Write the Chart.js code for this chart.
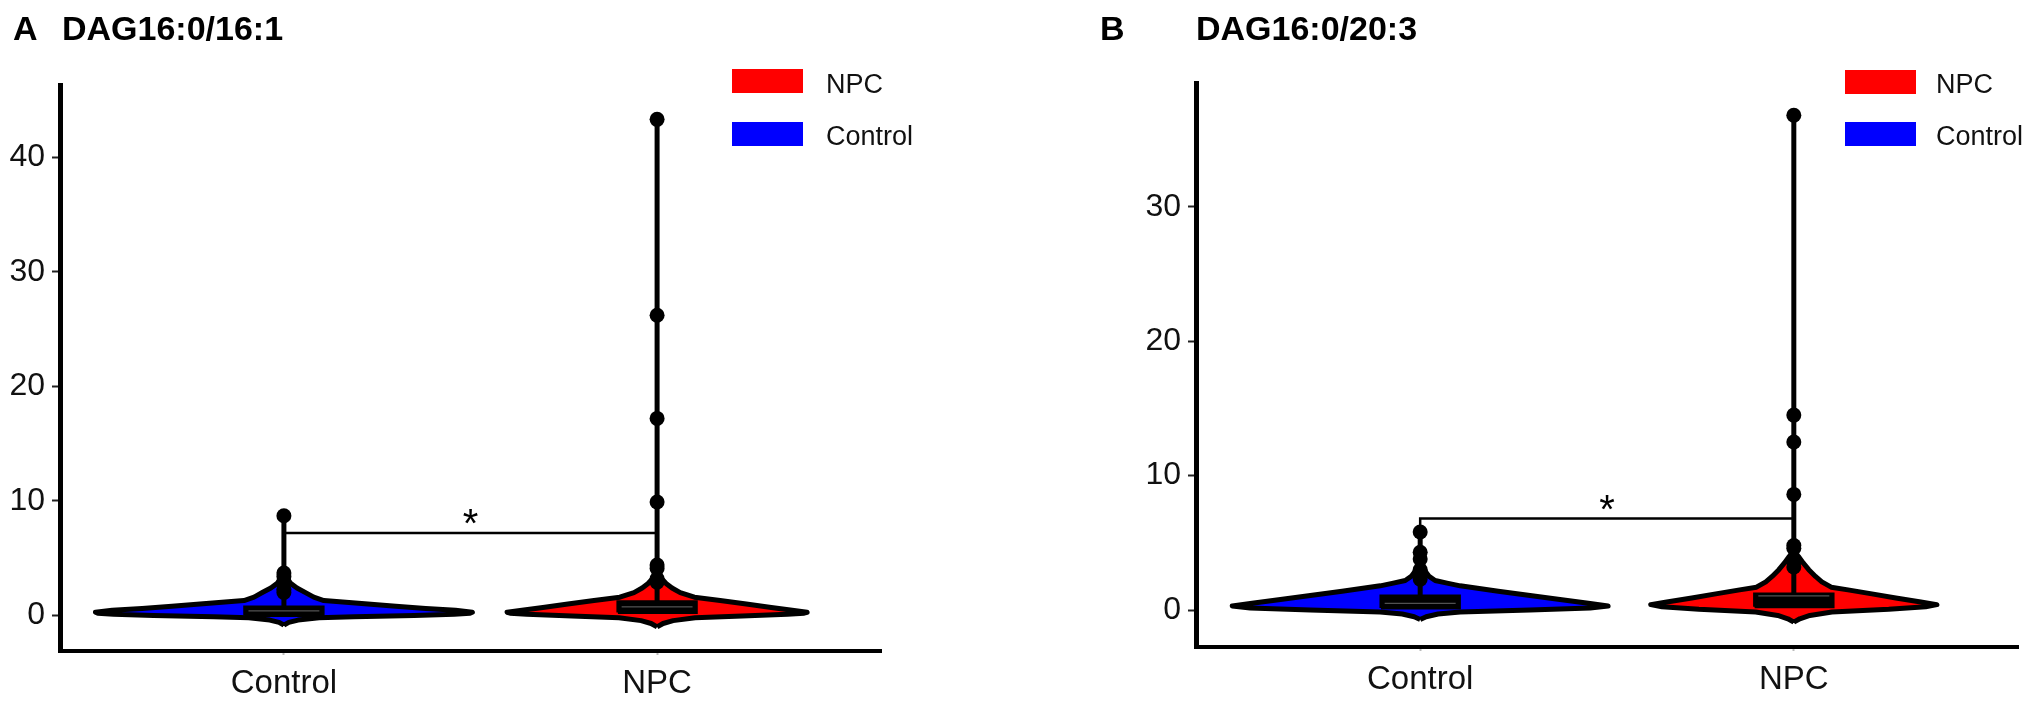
<!DOCTYPE html>
<html>
<head>
<meta charset="utf-8">
<script src="https://cdn.jsdelivr.net/npm/chart.js@4.4.1/dist/chart.umd.min.js"></script>
<style>
  body { margin: 0; background: #fff; font-family: "Liberation Sans", Arial, sans-serif; }
  #wrap { position: relative; width: 2033px; height: 704px; overflow: hidden; background: #fff; }
  canvas { position: absolute; top: 0; }
  .t { position: absolute; top: 11px; font-weight: bold; font-size: 34px; line-height: 34px; color: #000; white-space: nowrap; }
  .sw { position: absolute; width: 71px; height: 24px; }
  .lg { position: absolute; font-size: 27px; line-height: 27px; color: #111; white-space: nowrap; }
</style>
</head>
<body>
<div id="wrap">
  <canvas id="chartA" width="1016" height="704" style="left:0"></canvas>
  <canvas id="chartB" width="1017" height="704" style="left:1016px"></canvas>

  <div class="t" style="left:13px">A</div>
  <div class="t" style="left:62px" id="titleA"></div>
  <div class="t" style="left:1100px">B</div>
  <div class="t" style="left:1196px" id="titleB"></div>

  <div class="sw" style="left:732px;top:69px;background:#ff0000"></div>
  <div class="sw" style="left:732px;top:122px;background:#0000ff"></div>
  <div class="lg" style="left:826px;top:71px" id="lgA0"></div>
  <div class="lg" style="left:826px;top:123px" id="lgA1"></div>

  <div class="sw" style="left:1845px;top:70px;background:#ff0000"></div>
  <div class="sw" style="left:1845px;top:122px;background:#0000ff"></div>
  <div class="lg" style="left:1936px;top:71px" id="lgB0"></div>
  <div class="lg" style="left:1936px;top:123px" id="lgB1"></div>
</div>
<script>
// 群とラベル
const categories = ['Control', 'NPC'];
const panelTitles = ['DAG16:0/16:1', 'DAG16:0/20:3'];
const legendLabels = ['NPC', 'Control'];
const groupColors = ['#0000ff', '#ff0000'];

// パネルA
const yTicksA = [0, 10, 20, 30, 40];
const violinYA_Control = [-0.85, -0.6, -0.4, -0.2, -0.1, 0.0, 0.1, 0.2, 0.28, 0.45, 0.6, 0.8, 1.0, 1.3, 1.6, 2.0, 2.4, 2.8, 3.3, 3.8];
const violinWA_Control = [0, 0.013, 0.038, 0.094, 0.188, 0.349, 0.456, 0.499, 0.505, 0.46, 0.38, 0.30, 0.225, 0.107, 0.08, 0.058, 0.035, 0.018, 0.006, 0];
const violinYA_NPC = [-1.0, -0.7, -0.45, -0.2, -0.05, 0.1, 0.2, 0.28, 0.45, 0.7, 1.0, 1.3, 1.6, 2.0, 2.4, 2.8, 3.3, 3.8];
const violinWA_NPC = [0, 0.016, 0.043, 0.102, 0.228, 0.349, 0.394, 0.402, 0.362, 0.306, 0.239, 0.169, 0.1, 0.062, 0.04, 0.024, 0.01, 0];
const q1A = [0.0, 0.25];
const medianA = [0.4, 0.75];
const q3A = [0.75, 1.2];
const outliersA_Control = [8.7, 3.7, 3.4, 3.0, 2.3, 2.0];
const outliersA_NPC = [43.3, 26.2, 17.2, 9.9, 4.4, 4.1, 3.2, 2.9];
const bracketA = 7.2;

// パネルB
const yTicksB = [0, 10, 20, 30];
const violinYB_Control = [-0.7, -0.5, -0.3, -0.15, 0.0, 0.15, 0.3, 0.5, 0.8, 1.1, 1.4, 1.8, 2.0, 2.2, 2.5, 2.8, 3.3, 3.8];
const violinWB_Control = [0, 0.016, 0.048, 0.107, 0.294, 0.455, 0.503, 0.45, 0.369, 0.289, 0.209, 0.107, 0.072, 0.04, 0.024, 0.016, 0.006, 0];
const violinYB_NPC = [-0.9, -0.65, -0.4, -0.15, 0.05, 0.25, 0.4, 0.6, 0.9, 1.2, 1.5, 1.7, 2.1, 2.5, 3.0, 3.5, 4.0, 4.4];
const violinWB_NPC = [0, 0.016, 0.043, 0.102, 0.254, 0.353, 0.383, 0.34, 0.273, 0.209, 0.145, 0.1, 0.075, 0.058, 0.04, 0.025, 0.012, 0];
const q1B = [0.15, 0.25];
const medianB = [0.5, 1.05];
const q3B = [1.05, 1.2];
const outliersB_Control = [5.8, 4.3, 3.8, 3.0, 2.6, 2.3];
const outliersB_NPC = [36.8, 14.5, 12.5, 8.6, 4.8, 4.6, 3.6, 3.2];
const bracketB = 6.8;

const BOX_HALF = 0.105;
const TIP = 1.0;

document.getElementById('titleA').textContent = panelTitles[0];
document.getElementById('titleB').textContent = panelTitles[1];
document.getElementById('lgA0').textContent = legendLabels[0];
document.getElementById('lgA1').textContent = legendLabels[1];
document.getElementById('lgB0').textContent = legendLabels[0];
document.getElementById('lgB1').textContent = legendLabels[1];

function violinPoly(cx, ys, ws) {
  const right = ys.map((y, i) => ({x: cx + ws[i], y: y}));
  const left = ys.map((y, i) => ({x: cx - ws[i], y: y})).reverse();
  return right.concat(left);
}

function boxPoly(cx, q1, q3) {
  return [
    {x: cx - BOX_HALF, y: q1}, {x: cx + BOX_HALF, y: q1},
    {x: cx + BOX_HALF, y: q3}, {x: cx - BOX_HALF, y: q3},
    {x: cx - BOX_HALF, y: q1}
  ];
}

// アスタリスクを描く
const starPlugin = {
  id: 'star',
  afterDatasetsDraw(chart, args, opts) {
    const ctx = chart.ctx;
    const x = chart.scales.x.getPixelForValue(1.5);
    const y = chart.scales.y.getPixelForValue(opts.value);
    ctx.save();
    ctx.fillStyle = '#000';
    ctx.font = '40px "Liberation Sans", Arial, sans-serif';
    ctx.textAlign = 'center';
    ctx.textBaseline = 'alphabetic';
    ctx.fillText('*', x, y + 4);
    ctx.restore();
  }
};

function makeChart(id, p) {
  const datasets = [];
  const violins = [[p.vyC, p.vwC], [p.vyN, p.vwN]];
  const outs = [p.outC, p.outN];
  categories.forEach((c, i) => {
    const cx = i + 1;
    datasets.push({
      type: 'line', order: 5,
      data: violinPoly(cx, violins[i][0], violins[i][1]),
      borderColor: '#000', borderWidth: 5, backgroundColor: groupColors[i],
      fill: 'shape', pointRadius: 0, borderJoinStyle: 'round', tension: 0
    });
    datasets.push({
      type: 'line', order: 4,
      data: boxPoly(cx, p.q1[i], p.q3[i]),
      borderColor: '#000', borderWidth: 3, backgroundColor: '#000',
      fill: 'shape', pointRadius: 0
    });
    datasets.push({
      type: 'line', order: 3,
      data: [{x: cx - BOX_HALF + 0.01, y: p.med[i]}, {x: cx + BOX_HALF - 0.01, y: p.med[i]}],
      borderColor: '#666', borderWidth: 1, pointRadius: 0, fill: false
    });
    datasets.push({
      type: 'line', order: 1,
      data: [{x: cx, y: p.q3[i]}, {x: cx, y: Math.max(...outs[i])}],
      borderColor: '#000', borderWidth: 5, pointRadius: 0, fill: false
    });
    datasets.push({
      type: 'scatter', order: 0,
      data: outs[i].map(v => ({x: cx, y: v})),
      backgroundColor: '#000', borderWidth: 0, pointRadius: 7.5, pointStyle: 'circle'
    });
  });
  datasets.push({
    type: 'line', order: 2,
    data: [{x: 1, y: p.bracket - TIP}, {x: 1, y: p.bracket}, {x: 2, y: p.bracket}, {x: 2, y: p.bracket - TIP}],
    borderColor: '#000', borderWidth: 2.5, pointRadius: 0, fill: false
  });

  return new Chart(document.getElementById(id), {
    type: 'scatter',
    data: {datasets: datasets},
    plugins: [starPlugin],
    options: {
      responsive: false,
      animation: false,
      devicePixelRatio: 1,
      layout: {padding: p.pad},
      plugins: {legend: {display: false}, tooltip: {enabled: false}, star: {value: p.bracket}},
      scales: {
        x: {
          type: 'linear', min: 0.4, max: 2.6,
          afterBuildTicks: s => { s.ticks = categories.map((c, i) => ({value: i + 1})); },
          afterFit: s => { s.height = p.xh; },
          ticks: {
            autoSkip: false, maxRotation: 0, padding: 9, color: '#111',
            font: {family: '"Liberation Sans", Arial, sans-serif', size: 33},
            callback: v => categories[v - 1]
          },
          grid: {drawOnChartArea: false, tickLength: 4, tickColor: '#bbb', tickWidth: 2},
          border: {display: true, color: '#000', width: 4}
        },
        y: {
          type: 'linear', min: p.ymin, max: p.ymax,
          afterBuildTicks: s => { s.ticks = p.yticks.map(v => ({value: v})); },
          afterFit: s => { s.width = p.yw; },
          ticks: {
            padding: 7, color: '#111',
            font: {family: '"Liberation Sans", Arial, sans-serif', size: 32}
          },
          grid: {drawOnChartArea: false, tickLength: 8, tickColor: '#222', tickWidth: 2},
          border: {display: true, color: '#000', width: 5}
        }
      }
    }
  });
}

makeChart('chartA', {
  vyC: violinYA_Control, vwC: violinWA_Control, vyN: violinYA_NPC, vwN: violinWA_NPC,
  q1: q1A, med: medianA, q3: q3A, outC: outliersA_Control, outN: outliersA_NPC,
  bracket: bracketA, yticks: yTicksA, ymin: -3.1, ymax: 46.3,
  pad: {top: 85, right: 135, bottom: 0, left: 0}, yw: 60, xh: 53
});

makeChart('chartB', {
  vyC: violinYB_Control, vwC: violinWB_Control, vyN: violinYB_NPC, vwN: violinWB_NPC,
  q1: q1B, med: medianB, q3: q3B, outC: outliersB_Control, outN: outliersB_NPC,
  bracket: bracketB, yticks: yTicksB, ymin: -2.75, ymax: 39.2,
  pad: {top: 83, right: 15, bottom: 0, left: 0}, yw: 180, xh: 57
});
</script>
</body>
</html>
